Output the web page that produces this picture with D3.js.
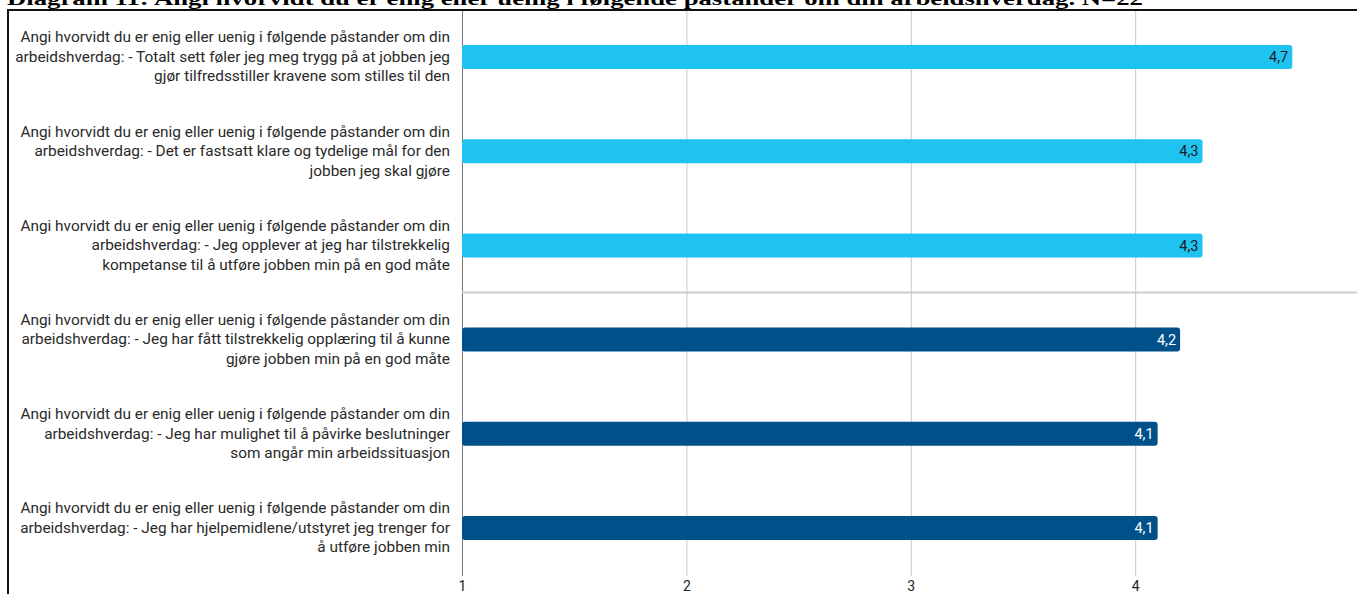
<!DOCTYPE html>
<html>
<head>
<meta charset="utf-8">
<script src="https://cdn.jsdelivr.net/npm/d3@7"></script>
<style>
  html, body { margin: 0; padding: 0; background: #fff; }
  svg { display: block; }
</style>
</head>
<body>
<svg id="chart" width="1357" height="594"></svg>
<script>
// Statements (each split into three display lines), mean score, and group
const statements = [
  ["Angi hvorvidt du er enig eller uenig i følgende påstander om din",
   "arbeidshverdag: - Totalt sett føler jeg meg trygg på at jobben jeg",
   "gjør tilfredsstiller kravene som stilles til den"],
  ["Angi hvorvidt du er enig eller uenig i følgende påstander om din",
   "arbeidshverdag: - Det er fastsatt klare og tydelige mål for den",
   "jobben jeg skal gjøre"],
  ["Angi hvorvidt du er enig eller uenig i følgende påstander om din",
   "arbeidshverdag: - Jeg opplever at jeg har tilstrekkelig",
   "kompetanse til å utføre jobben min på en god måte"],
  ["Angi hvorvidt du er enig eller uenig i følgende påstander om din",
   "arbeidshverdag: - Jeg har fått tilstrekkelig opplæring til å kunne",
   "gjøre jobben min på en god måte"],
  ["Angi hvorvidt du er enig eller uenig i følgende påstander om din",
   "arbeidshverdag: - Jeg har mulighet til å påvirke beslutninger",
   "som angår min arbeidssituasjon"],
  ["Angi hvorvidt du er enig eller uenig i følgende påstander om din",
   "arbeidshverdag: - Jeg har hjelpemidlene/utstyret jeg trenger for",
   "å utføre jobben min"]
];
const scores = [4.7, 4.3, 4.3, 4.2, 4.1, 4.1];
const groups = ["A", "A", "A", "B", "B", "B"];
const tickValues = [1, 2, 3, 4];
const titleText = "Diagram 11: Angi hvorvidt du er enig eller uenig i følgende påstander om din arbeidshverdag. N=22";

const svg = d3.select("#chart");
const W = 1357;
const plot = { left: 462, top: 10, bottom: 576 };

const color = d3.scaleOrdinal().domain(["A", "B"]).range(["#1fc3f1", "#01508a"]);
const textColor = d3.scaleOrdinal().domain(["A", "B"]).range(["#1b1b1b", "#ffffff"]);

const x = d3.scaleLinear().domain([1, 5]).range([plot.left, plot.left + 4 * 224.4]);
const ids = d3.range(statements.length);
const y = d3.scaleBand().domain(ids).range([plot.top, 575])
  .paddingInner(0.745).paddingOuter(0.3725);

// Title (sits above the frame)
svg.append("text")
  .attr("x", 7).attr("y", 5)
  .attr("font-family", "'Liberation Serif', 'Times New Roman', serif")
  .attr("font-weight", "bold").attr("font-size", 18)
  .attr("textLength", 1136).attr("lengthAdjust", "spacingAndGlyphs")
  .attr("fill", "#000")
  .text(titleText);

// Frame
svg.append("line").attr("x1", 7).attr("x2", W).attr("y1", 10).attr("y2", 10)
  .attr("stroke", "#111").attr("stroke-width", 2);
svg.append("line").attr("x1", 8).attr("x2", 8).attr("y1", 9).attr("y2", 594)
  .attr("stroke", "#111").attr("stroke-width", 2);

// Vertical grid lines + tick labels
const xAxis = d3.axisBottom(x).tickValues(tickValues).tickSize(0).tickFormat(d3.format("d"));
const gx = svg.append("g").attr("transform", `translate(0,${plot.bottom})`).call(xAxis);
gx.select(".domain").remove();
gx.selectAll(".tick line").attr("y1", plot.top + 1 - plot.bottom).attr("y2", 0)
  .attr("stroke", "#c8c8c8").attr("stroke-width", 1);
gx.selectAll(".tick").filter(d => d === 1).select("line").attr("stroke", "#777");
gx.selectAll(".tick text")
  .attr("y", 5).attr("dy", "0.71em")
  .attr("font-family", "Roboto, sans-serif").attr("font-size", 14)
  .attr("fill", "#222");

// Separator between the two groups
const sepY = (y(2) + y.bandwidth() + y(3)) / 2;
svg.append("line").attr("x1", plot.left).attr("x2", W).attr("y1", sepY).attr("y2", sepY)
  .attr("stroke", "#cdcdcd").attr("stroke-width", 2);

// Bars
svg.append("g").selectAll("rect").data(ids).join("rect")
  .attr("x", x(1))
  .attr("y", i => y(i))
  .attr("width", i => x(scores[i]) - x(1))
  .attr("height", y.bandwidth())
  .attr("rx", 3).attr("ry", 3)
  .attr("fill", i => color(groups[i]));

// Value labels inside bar ends
svg.append("g").selectAll("text").data(ids).join("text")
  .attr("x", i => x(scores[i]) - 4)
  .attr("y", i => y(i) + y.bandwidth() / 2)
  .attr("dy", "0.36em")
  .attr("text-anchor", "end")
  .attr("font-family", "Roboto, sans-serif").attr("font-size", 14.5)
  .attr("fill", i => textColor(groups[i]))
  .text(i => d3.format(".1f")(scores[i]).replace(".", ","));

// Category labels, right-aligned against the axis, slightly widened
const labelX = 450;
const lab = svg.append("g")
  .attr("transform", `translate(${labelX},0) scale(1.1,1)`)
  .selectAll("text").data(ids).join("text")
  .attr("text-anchor", "end")
  .attr("font-family", "Roboto, sans-serif").attr("font-size", 14)
  .attr("fill", "#2a2a2a");
lab.selectAll("tspan").data(i => statements[i].map((s, k) => ({ s, k, i }))).join("tspan")
  .attr("x", 0)
  .attr("y", d => y(d.i) + y.bandwidth() / 2 + (d.k - 1) * 19.5)
  .attr("dy", "0.35em")
  .text(d => d.s);
</script>
</body>
</html>
